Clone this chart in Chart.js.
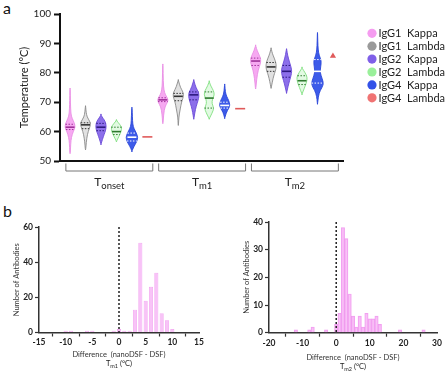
<!DOCTYPE html>
<html lang="en">
<head>
<meta charset="UTF-8">
<title>Thermal stability by isotype</title>
<script src="https://cdn.jsdelivr.net/npm/chart.js"></script>
<style>
  body { margin: 0; background: #fff; font-family: Lato, 'DejaVu Sans', sans-serif; }
  #wrap { position: relative; width: 446px; height: 373px; overflow: hidden; }
  canvas { position: absolute; }
  .panel { position: absolute; font-size: 16px; color: #111; line-height: 1; }
</style>
</head>
<body>
<div id="wrap">
  <div class="panel" style="left:3px;top:0px">a</div>
  <div class="panel" style="left:3px;top:203px">b</div>
  <canvas id="violins" width="446" height="196" style="left:0;top:0"></canvas>
  <canvas id="histTm1" width="222" height="178" style="left:0;top:195px"></canvas>
  <canvas id="histTm2" width="226" height="178" style="left:220px;top:195px"></canvas>
</div>

<script>
const FONT = "Lato, 'DejaVu Sans', sans-serif";
Chart.defaults.font.family = FONT;
Chart.defaults.color = '#222';

// ---- panel a data ----
const antibodyTypes = ['IgG1  Kappa', 'IgG1  Lambda', 'IgG2  Kappa', 'IgG2  Lambda', 'IgG4  Kappa', 'IgG4  Lambda'];
const groupSubs = ['onset', 'm1', 'm2'];

// medians for [Tonset, Tm1, Tm2]
const medIgG1Kappa = [61.5, 70.8, 84.0];
const medIgG1Lambda = [62.3, 72.0, 82.0];
const medIgG2Kappa = [61.5, 72.5, 80.5];
const medIgG2Lambda = [60.0, 71.4, 77.3];
const medIgG4Kappa = [58.1, 68.9, 80.5];
const medIgG4Lambda = [58.2, 67.8, 85.7];

// quartiles [q1, q3]
const quartIgG1Kappa = [[60.7, 62.5], [70.2, 71.5], [82.5, 85.0]];
const quartIgG1Lambda = [[61.0, 63.0], [70.5, 73.0], [80.5, 83.5]];
const quartIgG2Kappa = [[60.3, 62.8], [70.8, 73.5], [78.5, 82.5]];
const quartIgG2Lambda = [[59.0, 61.5], [68.0, 73.5], [76.0, 79.0]];
const quartIgG4Kappa = [[56.8, 59.5], [68.0, 70.0], [76.5, 84.5]];
const quartIgG4Lambda = [[], [], []];

// density profiles: [temperature, relative density]
const densIgG1Kappa = [
  [[53, 0.05], [56, 0.12], [58, 0.25], [60, 0.6], [61.5, 1], [63, 0.8], [64.5, 0.4], [66, 0.15], [70, 0.07], [74.3, 0.03]],
  [[63.2, 0.05], [66, 0.15], [68.5, 0.4], [70, 0.9], [71, 1], [72.5, 0.5], [74, 0.2], [77, 0.08], [82.5, 0.03]],
  [[75, 0.05], [78, 0.2], [81, 0.5], [83, 0.9], [84.5, 1], [86, 0.7], [87.5, 0.3], [89, 0.05]]
];
const densIgG1Lambda = [
  [[54.3, 0.05], [56.5, 0.15], [59, 0.35], [61, 0.7], [62.5, 1], [63.5, 0.8], [65, 0.3], [66.5, 0.12], [68.3, 0.03]],
  [[62.6, 0.03], [65, 0.1], [67, 0.3], [69, 0.5], [70.5, 0.7], [72, 1], [73.5, 0.9], [75, 0.4], [77.2, 0.05]],
  [[75.2, 0.05], [77, 0.25], [79, 0.5], [80.5, 0.8], [82, 1], [83.5, 0.9], [85, 0.6], [86.5, 0.25], [88, 0.05]]
];
const densIgG2Kappa = [
  [[56, 0.05], [57.5, 0.3], [59, 0.6], [60.5, 0.9], [62, 1], [63.5, 0.8], [64.5, 0.4], [65.5, 0.05]],
  [[64.7, 0.05], [66.5, 0.2], [68.5, 0.45], [70.5, 0.8], [72, 1], [73.5, 0.9], [75, 0.4], [77.2, 0.05]],
  [[73.5, 0.05], [75.5, 0.3], [77.5, 0.6], [79, 0.85], [80.5, 1], [82, 0.85], [84, 0.5], [86, 0.2], [87.7, 0.05]]
];
const densIgG2Lambda = [
  [[57, 0.1], [58.5, 0.5], [60, 0.9], [61.5, 1], [62.5, 0.6], [63.6, 0.1]],
  [[64.7, 0.1], [66.5, 0.6], [68, 0.9], [69.5, 0.5], [71, 0.6], [72.5, 1], [74, 0.8], [75.5, 0.3], [76.8, 0.05]],
  [[73, 0.05], [75, 0.5], [77, 0.9], [78.5, 1], [80, 0.6], [81.5, 0.05]]
];
const densIgG4Kappa = [
  [[53.6, 0.05], [55, 0.4], [56.5, 0.9], [58, 1.15], [59.5, 0.85], [61, 0.4], [62.5, 0.15], [65, 0.1], [67.8, 0.03]],
  [[64.9, 0.05], [66.5, 0.3], [68, 0.8], [69, 1], [70.5, 0.8], [72, 0.35], [73.5, 0.12], [75.7, 0.03]],
  [[69.8, 0.03], [72, 0.15], [74, 0.5], [76, 1.2], [78, 0.9], [80, 0.5], [82, 0.6], [84, 0.75], [86, 0.3], [88, 0.12], [90.5, 0.06], [93.2, 0.02]]
];
const densIgG4Lambda = [[], [], []];

// ---- panel b data ----
const tm1Bins = [-10, -9, -6, -5, -1, 0, 1, 2, 3, 4, 5, 6, 7, 8, 9, 10];
const tm1Counts = [1, 1, 1, 1, 1, 2, 1, 1, 13, 51, 18, 26, 34, 11, 7, 2];
const tm2Bins = [-12, -8, -7, -3, 0, 1, 2, 3, 4, 5, 6, 7, 8, 9, 10, 11, 12, 13, 19, 26];
const tm2Counts = [1, 1, 2, 1, 3, 7, 38, 34, 14, 6, 2, 6, 2, 7, 5, 5, 6, 3, 1, 1];

// ---- styling ----
const typeColors = ['#f59cf0', '#9a9a9a', '#7f5fe8', '#9af09a', '#3352e8', '#f07373'];
const violinFill = ['rgba(245,160,240,0.9)', 'rgba(170,170,170,0.35)', 'rgba(127,95,232,0.9)', 'rgba(160,240,160,0.3)', 'rgba(51,82,232,0.95)', '#f07373'];
const violinEdge = ['#e98de4', '#8a8a8a', '#6b4bd8', '#7fe07f', '#2a46d8', '#e05a5a'];
const innerLine = ['#a0329a', '#333333', '#2e1a80', '#2f7a2f', '#ffffff', '#e05a5a'];

const medians = [medIgG1Kappa, medIgG1Lambda, medIgG2Kappa, medIgG2Lambda, medIgG4Kappa, medIgG4Lambda];
const quartiles = [quartIgG1Kappa, quartIgG1Lambda, quartIgG2Kappa, quartIgG2Lambda, quartIgG4Kappa, quartIgG4Lambda];
const densities = [densIgG1Kappa, densIgG1Lambda, densIgG2Kappa, densIgG2Lambda, densIgG4Kappa, densIgG4Lambda];
const HALF_W = 0.34; // violin half width (x units) at density 1

function smoothTo(ctx, pts) {
  ctx.lineTo(pts[0][0], pts[0][1]);
  for (let i = 1; i < pts.length - 1; i++) {
    const mx = (pts[i][0] + pts[i + 1][0]) / 2, my = (pts[i][1] + pts[i + 1][1]) / 2;
    ctx.quadraticCurveTo(pts[i][0], pts[i][1], mx, my);
  }
  const last = pts[pts.length - 1];
  ctx.lineTo(last[0], last[1]);
}

function densAt(prof, t) {
  for (let i = 0; i < prof.length - 1; i++) {
    const [t0, d0] = prof[i], [t1, d1] = prof[i + 1];
    if (t >= t0 && t <= t1) return d0 + (d1 - d0) * (t - t0) / (t1 - t0);
  }
  return 0;
}

function drawSubLabel(ctx, cx, cy, main, sub, tail, size, subSize) {
  ctx.save();
  ctx.font = `${size}px ${FONT}`;
  const wm = ctx.measureText(main).width, wt = tail ? ctx.measureText(tail).width : 0;
  ctx.font = `${subSize}px ${FONT}`;
  const ws = ctx.measureText(sub).width;
  let x = cx - (wm + ws + wt) / 2;
  ctx.fillStyle = '#222';
  ctx.textBaseline = 'middle';
  ctx.textAlign = 'left';
  ctx.font = `${size}px ${FONT}`;
  ctx.fillText(main, x, cy);
  x += wm;
  ctx.font = `${subSize}px ${FONT}`;
  ctx.fillText(sub, x, cy + size * 0.32);
  x += ws;
  if (tail) {
    ctx.font = `${size}px ${FONT}`;
    ctx.fillText(tail, x, cy);
  }
  ctx.restore();
}

const violinPlugin = {
  id: 'violins',
  beforeDatasetsDraw(chart) {
    const { ctx, scales: { x, y } } = chart;
    ctx.save();
    densities.forEach((set, k) => {
      set.forEach((prof, g) => {
        if (!prof.length) return;
        const pos = g * 6 + k;
        const cx = x.getPixelForValue(pos);
        const half = d => x.getPixelForValue(pos + d * HALF_W) - cx;
        const right = prof.map(([t, d]) => [cx + half(d), y.getPixelForValue(t)]);
        const left = right.map(([px, py]) => [2 * cx - px, py]).reverse();
        ctx.beginPath();
        ctx.moveTo(cx, right[0][1] + 1.5);
        smoothTo(ctx, right);
        ctx.lineTo(cx, right[right.length - 1][1] - 1.5);
        smoothTo(ctx, left);
        ctx.closePath();
        ctx.fillStyle = violinFill[k];
        ctx.fill();
        ctx.strokeStyle = violinEdge[k];
        ctx.lineWidth = 0.9;
        ctx.stroke();
        // quartile lines
        ctx.setLineDash([1.5, 1.5]);
        ctx.strokeStyle = innerLine[k];
        ctx.lineWidth = 1;
        quartiles[k][g].forEach(q => {
          const w = half(densAt(prof, q));
          const py = y.getPixelForValue(q);
          ctx.beginPath();
          ctx.moveTo(cx - w, py);
          ctx.lineTo(cx + w, py);
          ctx.stroke();
        });
        ctx.setLineDash([]);
      });
    });
    ctx.restore();
  },
  afterDraw(chart) {
    const { ctx, chartArea, scales: { x } } = chart;
    ctx.save();
    // group brackets
    ctx.strokeStyle = '#777';
    ctx.lineWidth = 1;
    const top = chartArea.bottom + 2.5, bot = chartArea.bottom + 10;
    groupSubs.forEach((sub, g) => {
      const x1 = x.getPixelForValue(g * 6 - 0.27), x2 = x.getPixelForValue(g * 6 + 5.35);
      ctx.beginPath();
      ctx.moveTo(x1, top);
      ctx.lineTo(x1, bot);
      ctx.lineTo(x2, bot);
      ctx.lineTo(x2, top);
      ctx.stroke();
      drawSubLabel(ctx, (x1 + x2) / 2, chartArea.bottom + 21.5, 'T', sub, '', 12, 9.5);
    });
    // legend
    antibodyTypes.forEach((name, i) => {
      const cy = 33.3 + i * 12.9, lx = chartArea.right + 29;
      ctx.beginPath();
      ctx.arc(lx, cy, 4.6, 0, Math.PI * 2);
      ctx.fillStyle = typeColors[i];
      ctx.fill();
      ctx.fillStyle = '#222';
      ctx.font = `11px ${FONT}`;
      ctx.textBaseline = 'middle';
      ctx.fillText(name, lx + 6.5, cy + 0.5);
    });
    ctx.restore();
  }
};

new Chart(document.getElementById('violins'), {
  type: 'scatter',
  data: {
    datasets: antibodyTypes.map((name, k) => ({
      label: name,
      data: medians[k].map((m, g) => ({ x: g * 6 + k, y: m })),
      pointStyle: k === 5 ? ['line', 'line', 'triangle'] : 'line',
      pointRadius: k === 5 ? [5, 5, 2] : 4.5,
      pointBorderWidth: 1.6,
      pointBorderColor: innerLine[k],
      pointBackgroundColor: typeColors[k],
      backgroundColor: typeColors[k]
    }))
  },
  options: {
    responsive: false,
    animation: false,
    events: [],
    layout: { padding: { top: 14, right: 103, left: 0, bottom: 0 } },
    plugins: { legend: { display: false }, tooltip: { enabled: false } },
    scales: {
      x: {
        type: 'linear', min: -0.65, max: 17.65,
        ticks: { display: false },
        grid: { display: false },
        border: { color: '#111', width: 2 },
        afterFit(s) { s.height = 35; }
      },
      y: {
        min: 50, max: 100,
        ticks: { stepSize: 10, font: { size: 10 }, padding: 3, color: '#222' },
        grid: { drawOnChartArea: false, tickLength: 6, tickWidth: 2, tickColor: '#111' },
        border: { color: '#111', width: 2 },
        title: { display: true, text: 'Temperature (°C)', font: { size: 11 }, padding: { top: 18 } },
        afterFit(s) { s.width = 60; }
      }
    }
  },
  plugins: [violinPlugin]
});

// ---- histograms ----
const zeroLine = {
  id: 'zeroLine',
  afterDatasetsDraw(chart) {
    const { ctx, chartArea, scales: { x } } = chart;
    const px = x.getPixelForValue(0);
    ctx.save();
    ctx.strokeStyle = '#111';
    ctx.lineWidth = 1.4;
    ctx.setLineDash([2, 2]);
    ctx.beginPath();
    ctx.moveTo(px, chartArea.top);
    ctx.lineTo(px, chartArea.bottom);
    ctx.stroke();
    ctx.restore();
  }
};

function histogram(id, bins, counts, xr, yr, box) {
  return new Chart(document.getElementById(id), {
    type: 'bar',
    data: {
      datasets: [{
        data: bins.map((b, i) => ({ x: b, y: counts[i] })),
        backgroundColor: 'rgba(246,175,244,0.75)',
        borderColor: 'rgba(238,140,236,0.85)',
        borderWidth: 0.7,
        barPercentage: box.bar,
        categoryPercentage: 1
      }]
    },
    options: {
      responsive: false,
      animation: false,
      events: [],
      layout: { padding: { top: box.top, right: box.right, left: 0, bottom: 0 } },
      plugins: { legend: { display: false }, tooltip: { enabled: false } },
      scales: {
        x: {
          type: 'linear', offset: false, min: xr[0], max: xr[1],
          ticks: { stepSize: xr[2], font: { size: 8.5, weight: 'bold' }, padding: 1, color: '#222', maxRotation: 0 },
          grid: { drawOnChartArea: false, tickLength: 4, tickWidth: 1.2, tickColor: '#333' },
          border: { color: '#333', width: 1.5 },
          title: { display: true, text: 'Difference  (nanoDSF - DSF)', font: { size: 7.5 }, color: '#333', padding: { top: 2, bottom: box.tpad } },
          afterFit(s) { s.height = box.xh; }
        },
        y: {
          min: yr[0], max: yr[1],
          ticks: { stepSize: yr[2], font: { size: 8.5, weight: 'bold' }, padding: 2, color: '#222' },
          grid: { drawOnChartArea: false, tickLength: 4, tickWidth: 1.2, tickColor: '#333' },
          border: { color: '#333', width: 1.5 },
          title: { display: true, text: 'Number of Antibodies', font: { size: 7.5 }, color: '#333', padding: { top: box.ypad } },
          afterFit(s) { s.width = box.yw; }
        }
      }
    },
    plugins: [zeroLine, {
      id: 'subTitle',
      afterDraw(chart) {
        const { ctx, chartArea } = chart;
        drawSubLabel(ctx, (chartArea.left + chartArea.right) / 2, box.sub, 'T', box.subText, ' (°C)', 7.5, 5.5);
      }
    }]
  });
}

histogram('histTm1', tm1Bins, tm1Counts, [-15, 15, 5], [0, 60, 20],
  { top: 32, right: 23, yw: 39, xh: 40.5, tpad: 13.5, ypad: 12.5, bar: 0.76, sub: 168.5, subText: 'm1' });
histogram('histTm2', tm2Bins, tm2Counts, [-20, 30, 10], [0, 40, 10],
  { top: 27, right: 9, yw: 49, xh: 40.3, tpad: 11, ypad: 22.5, bar: 1, sub: 171.5, subText: 'm2' });
</script>
</body>
</html>
